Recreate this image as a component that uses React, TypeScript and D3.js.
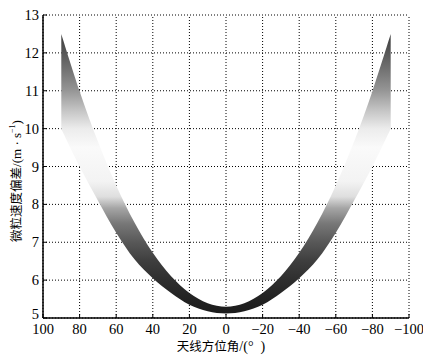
import React from "react";
import * as d3 from "d3";

// Angles (deg) and band edges
const angles = [-90, -80, -70, -60, -50, -40, -30, -20, -10, 0, 10, 20, 30, 40, 50, 60, 70, 80, 90];
const lowerEdge = [10.0, 9.0, 8.1, 7.25, 6.55, 6.05, 5.66, 5.35, 5.18, 5.12, 5.18, 5.35, 5.66, 6.05, 6.55, 7.25, 8.1, 9.0, 10.0];
const upperEdge = [12.5, 10.99, 9.66, 8.5, 7.52, 6.72, 6.1, 5.66, 5.39, 5.3, 5.39, 5.66, 6.1, 6.72, 7.52, 8.5, 9.66, 10.99, 12.5];

// Grey shading as a function of the velocity value
const shadeValues = [5.0, 5.5, 6.0, 6.5, 7.0, 7.5, 7.9, 8.2, 8.6, 9.5, 10.0, 10.5, 11.0, 11.5, 12.0, 12.6];
const shadeGreys = [26, 34, 46, 62, 88, 120, 165, 222, 243, 250, 236, 195, 150, 118, 88, 55];

const xTicks = [100, 80, 60, 40, 20, 0, -20, -40, -60, -80, -100];
const yTicks = [5, 6, 7, 8, 9, 10, 11, 12, 13];

const W = 423;
const H = 355;
const M = { left: 43, right: 14, top: 15, bottom: 37 };

export default function App() {
  const x = d3.scaleLinear().domain([100, -100]).range([M.left, W - M.right]);
  const y = d3.scaleLinear().domain([5, 13]).range([H - M.bottom, M.top]);

  const data = angles.map((a, i) => ({ a, lo: lowerEdge[i], hi: upperEdge[i] }));
  const area = d3
    .area<{ a: number; lo: number; hi: number }>()
    .x((d) => x(d.a))
    .y0((d) => y(d.lo))
    .y1((d) => y(d.hi))
    .curve(d3.curveCatmullRom.alpha(0.5));

  const y0 = y(5);
  const y1 = y(13);
  const serif = "'Liberation Serif', 'DejaVu Serif', serif";
  const cjk = "'Noto Sans CJK SC', 'Liberation Serif', serif";

  return (
    <svg
      width={W}
      height={H}
      style={{ position: "absolute", left: 0, top: 0, background: "#fff" }}
    >
      <defs>
        <linearGradient id="shade" gradientUnits="userSpaceOnUse" x1={0} x2={0} y1={y0} y2={y1}>
          {shadeValues.map((v, i) => {
            const g = shadeGreys[i];
            return (
              <stop
                key={i}
                offset={Math.max(0, Math.min(1, (v - 5) / 8))}
                stopColor={`rgb(${g},${g},${g})`}
              />
            );
          })}
        </linearGradient>
      </defs>

      {/* grid */}
      {xTicks.map((t) => (
        <line
          key={"gx" + t}
          x1={x(t)}
          x2={x(t)}
          y1={y(5)}
          y2={y(13)}
          stroke="#000"
          strokeWidth={1}
          strokeDasharray="1,2"
        />
      ))}
      {yTicks.map((t) => (
        <line
          key={"gy" + t}
          x1={x(100)}
          x2={x(-100)}
          y1={y(t)}
          y2={y(t)}
          stroke="#000"
          strokeWidth={1}
          strokeDasharray="1,2"
        />
      ))}

      {/* band */}
      <path d={area(data) || ""} fill="url(#shade)" stroke="none" />

      {/* axes */}
      <line x1={x(100)} x2={x(-100)} y1={y(5)} y2={y(5)} stroke="#000" strokeWidth={1.5} />
      <line x1={x(100)} x2={x(100)} y1={y(5)} y2={y(13)} stroke="#000" strokeWidth={1.5} />
      {xTicks.map((t) => (
        <line key={"tx" + t} x1={x(t)} x2={x(t)} y1={y(5)} y2={y(5) - 4} stroke="#000" />
      ))}
      {yTicks.map((t) => (
        <line key={"ty" + t} x1={x(100)} x2={x(100) + 4} y1={y(t)} y2={y(t)} stroke="#000" />
      ))}

      {/* tick labels */}
      {xTicks.map((t) => (
        <text
          key={"lx" + t}
          x={x(t)}
          y={y(5) + 16}
          textAnchor="middle"
          fontFamily={serif}
          fontSize={14.5}
          fill="#000"
        >
          {t < 0 ? "\u2212" + Math.abs(t) : String(t)}
        </text>
      ))}
      {yTicks.map((t) => (
        <text
          key={"ly" + t}
          x={x(100) - 4}
          y={y(t) + (t === 5 ? 1 : 5)}
          textAnchor="end"
          fontFamily={serif}
          fontSize={14.5}
          fill="#000"
        >
          {t}
        </text>
      ))}

      {/* axis titles */}
      <text
        x={221}
        y={351}
        textAnchor="middle"
        fontFamily={cjk}
        fontSize={12.5}
        fill="#000"
        style={{ whiteSpace: "pre" }}
      >
        天线方位角
        <tspan fontFamily={serif} fontSize={14}>/(°  )</tspan>
      </text>
      <text
        transform={`translate(21, 181) rotate(-90)`}
        textAnchor="middle"
        fontFamily={cjk}
        fontSize={12.5}
        fill="#000"
        style={{ whiteSpace: "pre" }}
      >
        微粒速度偏差
        <tspan fontFamily={serif} fontSize={13}>/(m · s</tspan>
        <tspan fontFamily={serif} fontSize={8} dy={-6}>−1</tspan>
        <tspan fontFamily={serif} fontSize={13} dy={6}>)</tspan>
      </text>
    </svg>
  );
}
